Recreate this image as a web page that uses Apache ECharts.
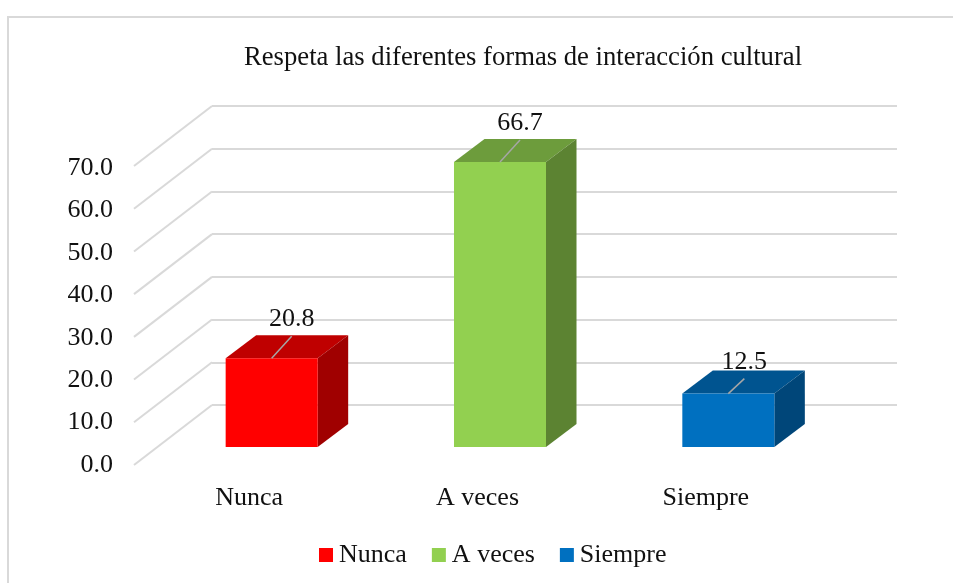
<!DOCTYPE html>
<html>
<head>
<meta charset="utf-8">
<style>
  html, body { margin: 0; padding: 0; background: #ffffff; overflow: hidden; }
  #chart { width: 953px; height: 583px; }
</style>
<script src="https://cdn.jsdelivr.net/npm/echarts@6/dist/echarts.min.js"></script>
</head>
<body>
<div id="chart"></div>
<script>
const titleText = "Respeta las diferentes formas de interacción cultural";
const categories = ["Nunca", "A veces", "Siempre"];
const values = [20.8, 66.7, 12.5];
const wallTicks = [0, 10, 20, 30, 40, 50, 60, 70];
const frontColors = ["#ff0000", "#92d050", "#0070c0"];
const topColors = ["#bf0000", "#6d9c3c", "#005490"];
const sideColors = ["#a00000", "#5c8332", "#004679"];

const FONT = "Liberation Serif";
const GRID_COLOR = "#d9d9d9";
// 3d look: how far the back of a bar / the wall sits from the front
const BAR_RATIO = 0.403;
const BAR_DX = 30.5, BAR_DY = -23;
const WALL_DX = -78, WALL_DY = 60;

function hiddenAxis(extra) {
  return Object.assign({
    show: false, min: 0, max: 70, interval: 10
  }, extra);
}

function renderBar(params, api) {
  const idx = api.value(0);
  const top = api.coord([idx, api.value(1)]);
  const base = api.coord([idx, 0]);
  const w = api.size([1, 0])[0] * BAR_RATIO;
  const l = top[0] - w / 2, r = top[0] + w / 2;
  const dx = BAR_DX, dy = BAR_DY;
  return {
    type: "group",
    children: [
      { type: "polygon", shape: { points: [[l, top[1]], [l + dx, top[1] + dy], [r + dx, top[1] + dy], [r, top[1]]] }, style: { fill: topColors[idx] } },
      { type: "polygon", shape: { points: [[r, top[1]], [r + dx, top[1] + dy], [r + dx, base[1] + dy], [r, base[1]]] }, style: { fill: sideColors[idx] } },
      { type: "rect", shape: { x: l, y: top[1], width: r - l, height: base[1] - top[1] }, style: { fill: frontColors[idx] } },
      // leader line and value
      { type: "line", shape: { x1: top[0], y1: top[1], x2: top[0] + (idx == 2 ? 16 : 20), y2: top[1] + (idx == 2 ? -15 : -22) }, style: { stroke: "#a6a6a6", lineWidth: 1.5 } },
      { type: "text", x: top[0] + (idx == 2 ? 16 : 20), y: top[1] + (idx == 2 ? -31 : -39), style: { text: api.value(1).toFixed(1), font: "26px '" + FONT + "'", fill: "#111111", align: "center", verticalAlign: "middle" } }
    ]
  };
}

function renderWall(params, api) {
  const p = api.coord([0, api.value(0)]);
  return {
    type: "line",
    shape: { x1: p[0], y1: p[1], x2: p[0] + WALL_DX, y2: p[1] + WALL_DY },
    style: { stroke: GRID_COLOR, lineWidth: 2 }
  };
}

const option = {
  animation: false,
  backgroundColor: "#ffffff",
  textStyle: { fontFamily: FONT },
  title: {
    text: titleText,
    left: 239,
    top: 39,
    textStyle: { fontFamily: FONT, fontSize: 26.67, fontWeight: "normal", color: "#111111" }
  },
  legend: {
    data: categories,
    left: 319,
    top: 542,
    padding: 0,
    icon: "rect",
    itemWidth: 14,
    itemHeight: 14,
    itemGap: 25,
    textStyle: { fontFamily: FONT, fontSize: 26, color: "#111111", padding: [0, 0, 0, 1] }
  },
  grid: [
    // back wall
    { left: 212, top: 106, width: 685, height: 299 },
    // front edge, carries the labels
    { left: 135, top: 168, width: 685, height: 297 },
    // bars
    { left: 157.5, top: 148, width: 685, height: 299 }
  ],
  xAxis: [
    { gridIndex: 0, type: "category", data: categories, boundaryGap: false, show: false },
    {
      gridIndex: 1, type: "category", data: categories,
      axisLine: { show: false }, axisTick: { show: false },
      axisLabel: { fontFamily: FONT, fontSize: 26, color: "#111111", margin: 20 }
    },
    { gridIndex: 2, type: "category", data: categories, show: false }
  ],
  yAxis: [
    {
      gridIndex: 0, type: "value", min: 0, max: 70, interval: 10,
      axisLine: { show: false }, axisTick: { show: false }, axisLabel: { show: false },
      splitLine: { lineStyle: { color: GRID_COLOR, width: 2 } }
    },
    {
      gridIndex: 1, type: "value", min: 0, max: 70, interval: 10,
      axisLine: { show: false }, axisTick: { show: false }, splitLine: { show: false },
      axisLabel: { fontFamily: FONT, fontSize: 26, color: "#111111", margin: 22, formatter: v => v.toFixed(1) }
    },
    hiddenAxis({ gridIndex: 2, type: "value" })
  ],
  series: [
    {
      type: "custom", name: "wall", xAxisIndex: 0, yAxisIndex: 0, z: 1, clip: false,
      renderItem: renderWall,
      data: wallTicks.map(v => [v]),
      encode: { y: 0 },
      silent: true
    }
  ].concat(categories.map((name, i) => ({
    type: "custom",
    name: name,
    xAxisIndex: 2,
    yAxisIndex: 2,
    z: 3,
    clip: false,
    itemStyle: { color: frontColors[i] },
    renderItem: renderBar,
    encode: { x: 0, y: 1 },
    data: [[i, values[i]]]
  })))
};

const chart = echarts.init(document.getElementById("chart"));
chart.setOption(option);

// thin frame round the picture, runs off the page right and bottom
chart.setOption({
  graphic: [{
    type: "rect", silent: true, z: 0,
    shape: { x: 8, y: 17, width: 960, height: 600 },
    style: { fill: "none", stroke: GRID_COLOR, lineWidth: 2 }
  }]
});
</script>
</body>
</html>
